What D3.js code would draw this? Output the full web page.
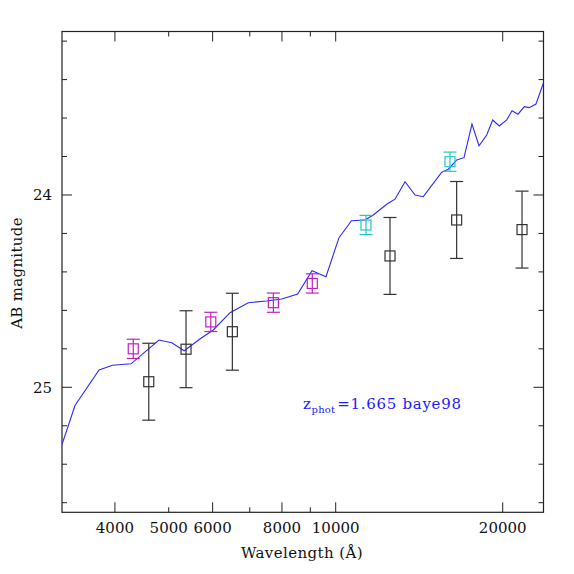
<!DOCTYPE html>
<html>
<head>
<meta charset="utf-8">
<script src="https://cdn.jsdelivr.net/npm/d3@7"></script>
<style>
  body { margin: 0; background: #fff; }
  svg { display: block; }
  text { font-family: "DejaVu Serif", serif; }
</style>
</head>
<body>
<svg width="574" height="574"></svg>
<script>
// model spectrum (wavelength in A, AB mag)
var modelWave = [3200, 3389, 3745, 3960, 4276, 4803, 5063, 5333, 5692, 6016, 6449, 6957,
                 7509, 7992, 8540, 9065, 9605, 10137, 10677, 11292, 11689, 12357, 12791,
                 13335, 13900, 14384, 15530, 15959, 16523, 17033, 17605, 18126, 18716,
                 19187, 19720, 20336, 20790, 21314, 21876, 22308, 22962, 23700];
var modelMag  = [25.31, 25.095, 24.91, 24.885, 24.878, 24.754, 24.768, 24.81, 24.749, 24.702,
                 24.612, 24.56, 24.551, 24.541, 24.515, 24.394, 24.425, 24.222, 24.134, 24.13,
                 24.104, 24.048, 24.022, 23.931, 24.0, 24.009, 23.882, 23.866, 23.818, 23.806,
                 23.631, 23.744, 23.688, 23.61, 23.641, 23.61, 23.562, 23.58, 23.541, 23.546,
                 23.527, 23.415];

// photometry: black (broad errors), magenta, cyan
var blackWave = [4603, 5373, 6512, 12528, 16520, 21670];
var blackMag  = [24.971, 24.802, 24.711, 24.317, 24.13, 24.18];
var blackErr  = [0.2, 0.2, 0.2, 0.2, 0.2, 0.2];

var magentaWave = [4316, 5954, 7720, 9074];
var magentaMag  = [24.80, 24.66, 24.56, 24.46];
var magentaErr  = [0.05, 0.05, 0.05, 0.05];

var cyanWave = [11339, 16070];
var cyanMag  = [24.156, 23.827];
var cyanErr  = [0.05, 0.05];

var xMajor = [4000, 6000, 8000, 10000, 20000];
var xMinor = [5000, 7000, 9000];
var xLabels = [4000, 5000, 6000, 8000, 10000, 20000];
var yMajor = [24, 25];
var yMinor = [23.2, 23.4, 23.6, 23.8, 24.2, 24.4, 24.6, 24.8, 25.2, 25.4, 25.6];

var svg = d3.select("svg"),
    margin = {top: 31.5, right: 30.5, bottom: 61.7, left: 62},
    width = +svg.attr("width") - margin.left - margin.right,
    height = +svg.attr("height") - margin.top - margin.bottom,
    g = svg.append("g").attr("transform", "translate(" + margin.left + "," + margin.top + ")");

var x = d3.scaleLog().domain([3211, 23690]).range([0, width]);
var y = d3.scaleLinear().domain([23.15, 25.65]).range([0, height]);

var ink = "#222";

// ticks on all four sides, pointing inward
function xTicks(vals, len) {
  vals.forEach(function(v) {
    g.append("line").attr("x1", x(v)).attr("x2", x(v)).attr("y1", height).attr("y2", height - len)
      .attr("stroke", ink).attr("stroke-width", 1);
    g.append("line").attr("x1", x(v)).attr("x2", x(v)).attr("y1", 0).attr("y2", len)
      .attr("stroke", ink).attr("stroke-width", 1);
  });
}
function yTicks(vals, len) {
  vals.forEach(function(v) {
    g.append("line").attr("x1", 0).attr("x2", len).attr("y1", y(v)).attr("y2", y(v))
      .attr("stroke", ink).attr("stroke-width", 1);
    g.append("line").attr("x1", width).attr("x2", width - len).attr("y1", y(v)).attr("y2", y(v))
      .attr("stroke", ink).attr("stroke-width", 1);
  });
}
xTicks(xMajor, 10);
xTicks(xMinor, 5);
yTicks(yMajor, 10);
yTicks(yMinor, 5);

g.append("rect").attr("width", width).attr("height", height)
  .attr("fill", "none").attr("stroke", ink).attr("stroke-width", 1.2);

// tick labels
g.selectAll(".xl").data(xLabels).enter().append("text")
  .attr("x", function(d) { return x(d); })
  .attr("y", height + 21)
  .attr("text-anchor", "middle")
  .attr("font-size", 15)
  .attr("fill", "#111")
  .text(function(d) { return d; });

g.selectAll(".yl").data(yMajor).enter().append("text")
  .attr("x", -10)
  .attr("y", function(d) { return y(d); })
  .attr("dy", "0.36em")
  .attr("text-anchor", "end")
  .attr("font-size", 15)
  .attr("fill", "#111")
  .text(function(d) { return d; });

// axis titles
svg.append("text")
  .attr("x", 302).attr("y", 558)
  .attr("text-anchor", "middle").attr("font-size", 15).attr("fill", "#111")
  .attr("letter-spacing", 0.4)
  .text("Wavelength (Å)");

svg.append("text")
  .attr("transform", "translate(22,273) rotate(-90)")
  .attr("text-anchor", "middle").attr("font-size", 15).attr("fill", "#111")
  .attr("letter-spacing", 0.3)
  .text("AB magnitude");

// clip for the model line
svg.append("defs").append("clipPath").attr("id", "clip")
  .append("rect").attr("width", width).attr("height", height);

var line = d3.line()
  .x(function(d) { return x(d[0]); })
  .y(function(d) { return y(d[1]); });

g.append("path")
  .datum(d3.zip(modelWave, modelMag))
  .attr("clip-path", "url(#clip)")
  .attr("fill", "none")
  .attr("stroke", "#2a2aff")
  .attr("stroke-width", 1.1)
  .attr("d", line);

// error bars + open squares
function points(wave, mag, err, color) {
  var data = d3.zip(wave, mag, err);
  var pt = g.append("g").selectAll("g").data(data).enter().append("g")
    .attr("stroke", color).attr("fill", "none").attr("stroke-width", 1.2);
  pt.append("line")
    .attr("x1", function(d) { return x(d[0]); }).attr("x2", function(d) { return x(d[0]); })
    .attr("y1", function(d) { return y(d[1] - d[2]); }).attr("y2", function(d) { return y(d[1] + d[2]); });
  [-1, 1].forEach(function(s) {
    pt.append("line")
      .attr("x1", function(d) { return x(d[0]) - 6.5; }).attr("x2", function(d) { return x(d[0]) + 6.5; })
      .attr("y1", function(d) { return y(d[1] + s * d[2]); }).attr("y2", function(d) { return y(d[1] + s * d[2]); });
  });
  pt.append("rect")
    .attr("x", function(d) { return x(d[0]) - 5; })
    .attr("y", function(d) { return y(d[1]) - 5; })
    .attr("width", 10).attr("height", 10);
}
points(blackWave, blackMag, blackErr, "#333");
points(magentaWave, magentaMag, magentaErr, "#c020c0");
points(cyanWave, cyanMag, cyanErr, "#20c8c8");

// photo-z annotation
var ann = svg.append("text")
  .attr("x", 303).attr("y", 409)
  .attr("font-size", 15).attr("fill", "#2020ff")
  .attr("letter-spacing", 0.7);
ann.append("tspan").text("z");
ann.append("tspan").attr("font-size", 10).attr("dy", 4).attr("letter-spacing", 0.2).text("phot");
ann.append("tspan").attr("dy", -4).attr("dx", 2).text("=1.665 baye98");
</script>
</body>
</html>
